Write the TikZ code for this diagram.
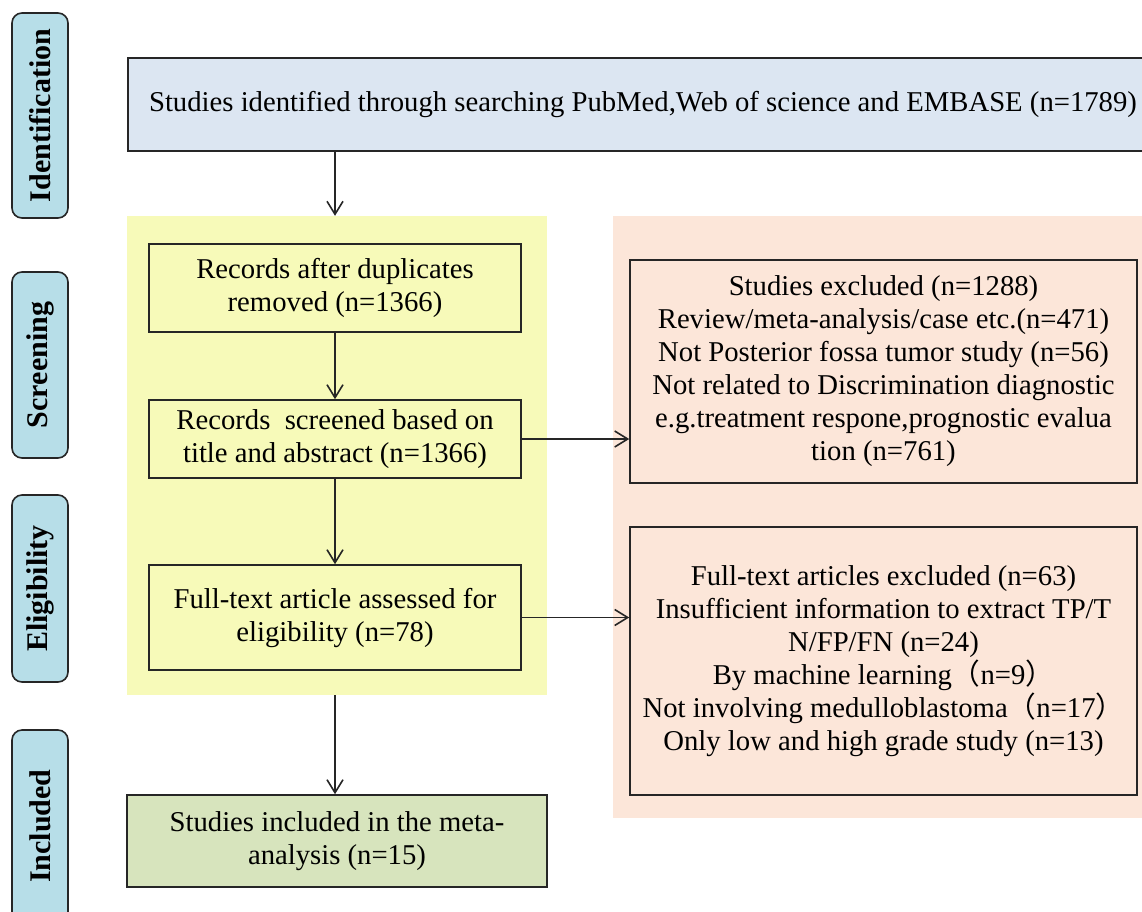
\documentclass[tikz,border=0pt]{standalone}
\usepackage{fontspec}
\setmainfont{Liberation Serif}
\newfontfamily\cjk{Noto Sans CJK SC}
\usetikzlibrary{arrows.meta}
\definecolor{tabblue}{HTML}{B7DEE8}
\definecolor{idblue}{HTML}{DCE6F2}
\definecolor{scryellow}{HTML}{F7FAB9}
\definecolor{expink}{HTML}{FCE6D9}
\definecolor{incgreen}{HTML}{D7E4BD}
\definecolor{edge}{HTML}{262626}
\tikzset{
    box/.style={draw=edge, line width=1.6pt, align=center, inner sep=0pt, font=\fontsize{28.7}{33}\selectfont},
    tab/.style={draw=edge, line width=1.6pt, fill=tabblue, rounded corners=10pt, minimum height=56pt, inner sep=0pt, rotate=90, font=\bfseries\fontsize{30}{33}\selectfont},
    arr/.style={draw=edge, line width=1.6pt, -{Straight Barb[length=13pt,width=16pt,line width=1.6pt]}}
}
\begin{document}
\begin{tikzpicture}[x=1pt,y=-1pt]
    \useasboundingbox (0,0) rectangle (1142,911);
    % phase tabs
    \foreach \name/\y/\h in {Identification/115.5/205, Screening/365/186, Eligibility/588.5/187, Included/826/192} {
            \node[tab, minimum width=\h pt] (\name) at (40,\y) {\name};
        }
    % backgrounds
    \node[fill=scryellow, minimum width=420pt, minimum height=479pt, inner sep=0pt] (screenbg) at (337,455.5) {};
    \node[fill=expink, minimum width=540pt, minimum height=602pt, inner sep=0pt] (excludebg) at (883,517) {};
    % boxes
    \node[box, fill=idblue, minimum width=1030pt, minimum height=93pt] (found) at (643,104.5) {Studies identified through searching PubMed,Web of science and EMBASE (n=1789)};
    \node[box, minimum width=372pt, minimum height=88pt] (dedup) at (335,288) {Records after duplicates\\removed (n=1366)};
    \node[box, minimum width=372pt, minimum height=78pt] (screened) at (335,439) {Records\ \ screened based on\\title and abstract (n=1366)};
    \node[box, minimum width=372pt, minimum height=105pt] (fulltext) at (335,617.5) {Full-text article assessed for\\eligibility (n=78)};
    \node[box, fill=incgreen, minimum width=420pt, minimum height=92pt] (included) at (337,841) {Studies included in the meta-\\analysis (n=15)};
    \node[box, minimum width=507pt, minimum height=223pt] (excl1) at (883.5,371.5) {Studies excluded (n=1288)\\Review/meta-analysis/case etc.(n=471)\\Not Posterior fossa tumor study (n=56)\\Not related to Discrimination diagnostic\\e.g.treatment respone,prognostic evalua\\tion (n=761)};
    \node[box, minimum width=507pt, minimum height=268pt] (excl2) at (883.5,661) {Full-text articles excluded (n=63)\\Insufficient information to extract TP/T\\N/FP/FN (n=24)\\By machine learning{\cjk （}n=9{\cjk ）}\\Not involving medulloblastoma{\cjk （}n=17{\cjk ）}\\Only low and high grade study (n=13)};
    % arrows
    \draw[arr] (found.south -| dedup) -- (dedup |- screenbg.north);
    \draw[arr] (dedup) -- (screened);
    \draw[arr] (screened) -- (fulltext);
    \draw[arr] (screened.east) -- (screened.east -| excl1.west);
    \draw[arr] (fulltext.east) -- (fulltext.east -| excl2.west);
    \draw[arr] (fulltext |- screenbg.south) -- (fulltext |- included.north);
\end{tikzpicture}
\end{document}
